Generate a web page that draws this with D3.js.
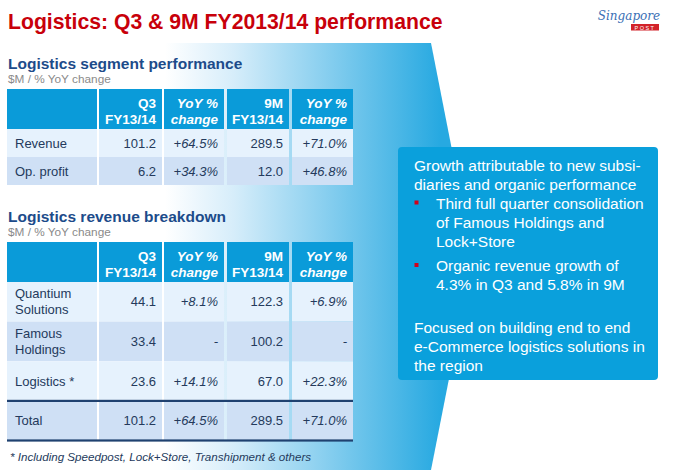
<!DOCTYPE html>
<html>
<head>
<meta charset="utf-8">
<script src="https://cdn.jsdelivr.net/npm/d3@7"></script>
<style>
  html, body { margin: 0; padding: 0; background: #fff; }
  svg { display: block; font-family: "Liberation Sans", Arial, sans-serif; }
</style>
</head>
<body>
<div id="slide"></div>
<script>
// ---- dados ----
const titulo = "Logistics: Q3 & 9M FY2013/14 performance";
const subtitulo = "$M / % YoY change";
const cabecalhos = [["", ""], ["Q3", "FY13/14"], ["YoY %", "change"], ["9M", "FY13/14"], ["YoY %", "change"]];

const segmentoTitulo = "Logistics segment performance";
const segmentoLinhas = [["Revenue"], ["Op. profit"]];
const segmentoQ3 = ["101.2", "6.2"];
const segmentoQ3Yoy = ["+64.5%", "+34.3%"];
const segmento9M = ["289.5", "12.0"];
const segmento9MYoy = ["+71.0%", "+46.8%"];

const receitaTitulo = "Logistics revenue breakdown";
const receitaLinhas = [["Quantium", "Solutions"], ["Famous", "Holdings"], ["Logistics *"], ["Total"]];
const receitaQ3 = ["44.1", "33.4", "23.6", "101.2"];
const receitaQ3Yoy = ["+8.1%", "-", "+14.1%", "+64.5%"];
const receita9M = ["122.3", "100.2", "67.0", "289.5"];
const receita9MYoy = ["+6.9%", "-", "+22.3%", "+71.0%"];

const rodape = "* Including Speedpost, Lock+Store, Transhipment & others";

const caixaTexto = [
  { tipo: "p", linhas: ["Growth attributable to new subsi-", "diaries and organic performance"] },
  { tipo: "b", linhas: ["Third full quarter consolidation", "of Famous Holdings and", "Lock+Store"] },
  { tipo: "b", linhas: ["Organic revenue growth of", "4.3% in Q3 and 5.8% in 9M"] },
  { tipo: "gap", linhas: [] },
  { tipo: "p", linhas: ["Focused on building end to end", "e-Commerce logistics solutions in", "the region"] }
];

// ---- layout ----
const W = 683, H = 470;
const azulCab = "#0a9bd9";
const corTexto = "#243a5c";
const colunasX = [7, 99, 164, 227, 292];
const colunasFim = [97, 162, 224, 289, 353];

const svg = d3.select("#slide").append("svg").attr("width", W).attr("height", H);

// seta em gradiente ao fundo
const defs = svg.append("defs");
const grad = defs.append("linearGradient").attr("id", "seta")
  .attr("gradientUnits", "userSpaceOnUse")
  .attr("x1", 165).attr("y1", 0).attr("x2", 440).attr("y2", 0);
grad.append("stop").attr("offset", 0).attr("stop-color", "#ffffff");
grad.append("stop").attr("offset", 0.25).attr("stop-color", "#d6edfa");
grad.append("stop").attr("offset", 1).attr("stop-color", "#27a9e1");

svg.append("path")
  .attr("d", "M0,43 L431,43 L473,257 L431,470 L0,470 Z")
  .attr("fill", "url(#seta)");

// titulo
svg.append("text").attr("x", 8).attr("y", 29)
  .attr("font-size", 21.2).attr("font-weight", "bold").attr("fill", "#c8000a")
  .text(titulo);

// logo
const logo = svg.append("g");
logo.append("text").attr("x", 629).attr("y", 20).attr("text-anchor", "middle")
  .attr("font-family", "DejaVu Serif, serif").attr("font-style", "italic")
  .attr("font-size", 12).attr("fill", "#3a6fb5").text("Singapore");
logo.append("rect").attr("x", 631).attr("y", 24).attr("width", 28).attr("height", 6.5).attr("fill", "#d2232a");
logo.append("text").attr("x", 645).attr("y", 29.5).attr("text-anchor", "middle")
  .attr("font-size", 5.5).attr("letter-spacing", 1.5).attr("fill", "#fff").text("POST");

function tabela(cfg) {
  const g = svg.append("g");
  g.append("text").attr("x", 8).attr("y", cfg.topo - 20)
    .attr("font-size", 15.5).attr("font-weight", "bold").attr("fill", "#1c4b8a").text(cfg.titulo);
  g.append("text").attr("x", 8).attr("y", cfg.topo - 6)
    .attr("font-size", 11.8).attr("fill", "#8a8a8a").text(subtitulo);

  const escalaY = d3.scaleBand()
    .domain(d3.range(cfg.linhas.length))
    .range([cfg.topo + cfg.altCab, cfg.topo + cfg.altCab + cfg.altLinha * cfg.linhas.length]);

  const escalaX = d3.scaleOrdinal().domain(d3.range(5)).range(colunasX);
  const escalaFim = d3.scaleOrdinal().domain(d3.range(5)).range(colunasFim);

  // cabecalho
  g.selectAll(".cab").data(cabecalhos).join("rect")
    .attr("x", (d, i) => escalaX(i)).attr("y", cfg.topo)
    .attr("width", (d, i) => escalaFim(i) - escalaX(i)).attr("height", cfg.altCab)
    .attr("fill", azulCab);
  g.selectAll(".cabTxt").data(cabecalhos).join("text")
    .attr("text-anchor", "end").attr("fill", "#fff").attr("font-size", 13.5).attr("font-weight", "bold")
    .attr("font-style", (d, i) => i % 2 === 0 ? "italic" : "normal")
    .each(function (d, i) {
      d.forEach((t, k) => d3.select(this).append("tspan")
        .attr("x", escalaFim(i) - 6).attr("y", cfg.topo + 19 + k * 16).text(t));
    });

  const linhas = cfg.linhas.map((rot, r) => [rot, cfg.q3[r], cfg.q3Yoy[r], cfg.m9[r], cfg.m9Yoy[r]]);

  linhas.forEach((lin, r) => {
    const y0 = escalaY(r), h = escalaY.bandwidth();
    const fundo = cfg.fundos[r];
    lin.forEach((v, c) => {
      g.append("rect").attr("x", escalaX(c)).attr("y", y0)
        .attr("width", escalaFim(c) - escalaX(c)).attr("height", h).attr("fill", fundo);
      const t = g.append("text").attr("fill", corTexto).attr("font-size", 13);
      if (c === 0) {
        const n = v.length;
        v.forEach((s, k) => t.append("tspan").attr("x", escalaX(c) + 8)
          .attr("y", y0 + h / 2 + 4.5 + (k - (n - 1) / 2) * 16).text(s));
      } else {
        t.attr("text-anchor", "end").attr("x", escalaFim(c) - 6).attr("y", y0 + h / 2 + 4.5)
          .attr("font-style", c % 2 === 0 ? "italic" : "normal").text(v);
      }
    });
  });

  (cfg.linhasEscuras || []).forEach(r => {
    const y = r < cfg.linhas.length ? escalaY(r) : escalaY(cfg.linhas.length - 1) + escalaY.bandwidth();
    g.append("rect").attr("x", 7).attr("y", y - 1).attr("width", 346).attr("height", 2.2).attr("fill", "#1f4170");
  });
}

tabela({
  titulo: segmentoTitulo, topo: 89, altCab: 40, altLinha: 28,
  linhas: segmentoLinhas, q3: segmentoQ3, q3Yoy: segmentoQ3Yoy, m9: segmento9M, m9Yoy: segmento9MYoy,
  fundos: ["#e6f2fd", "#cfe0f5"]
});

tabela({
  titulo: receitaTitulo, topo: 242, altCab: 40, altLinha: 39.6,
  linhas: receitaLinhas, q3: receitaQ3, q3Yoy: receitaQ3Yoy, m9: receita9M, m9Yoy: receita9MYoy,
  fundos: ["#e6f2fd", "#cfe0f5", "#e6f2fd", "#cfe0f5"],
  linhasEscuras: [3, 4]
});

svg.append("text").attr("x", 10).attr("y", 461)
  .attr("font-size", 11.6).attr("font-style", "italic").attr("fill", corTexto).text(rodape);

// caixa de texto
const caixa = svg.append("g");
caixa.append("rect").attr("x", 398).attr("y", 147).attr("width", 260).attr("height", 233)
  .attr("rx", 4).attr("fill", "#0aa0dc");
let y = 170.5;
caixaTexto.forEach(bloco => {
  if (bloco.tipo === "gap") { y += 18; return; }
  bloco.linhas.forEach((s, k) => {
    if (bloco.tipo === "b" && k === 0) {
      caixa.append("rect").attr("x", 414.5).attr("y", y - 8).attr("width", 4).attr("height", 4).attr("fill", "#d0021b");
    }
    caixa.append("text").attr("x", bloco.tipo === "b" ? 436 : 414).attr("y", y)
      .attr("font-size", 15.5).attr("fill", "#fff").text(s);
    y += 19;
  });
  if (bloco.tipo === "b") y += 5.5;
});
</script>
</body>
</html>
